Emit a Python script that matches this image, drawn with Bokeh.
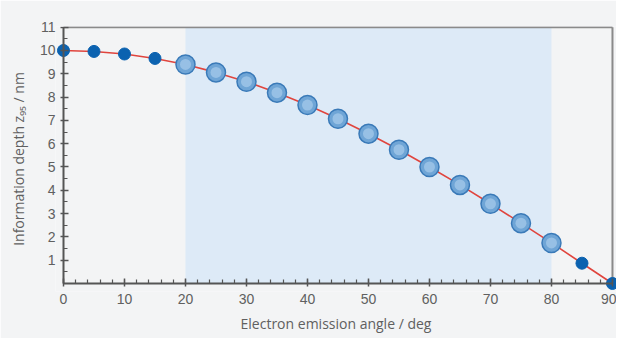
from bokeh.plotting import figure
from bokeh.models import FixedTicker, BoxAnnotation, LinearAxis
from bokeh.embed import file_html
from bokeh.resources import INLINE

angles = [0, 5, 10, 15, 20, 25, 30, 35, 40, 45, 50, 55, 60, 65, 70, 75, 80, 85, 90]
depth = [10.0, 9.96, 9.85, 9.66, 9.40, 9.06, 8.66, 8.19, 7.66, 7.07, 6.43, 5.74, 5.0, 4.23, 3.42, 2.59, 1.74, 0.87, 0.0]
band = (20, 80)
x_ticks = [0, 10, 20, 30, 40, 50, 60, 70, 80, 90]
y_ticks = [1, 2, 3, 4, 5, 6, 7, 8, 9, 10, 11]
x_lim = (0, 90)
y_lim = (0, 11)

inside_x = [a for a in angles if band[0] <= a <= band[1]]
inside_y = [d for a, d in zip(angles, depth) if band[0] <= a <= band[1]]
outside_x = [a for a in angles if not (band[0] <= a <= band[1])]
outside_y = [d for a, d in zip(angles, depth) if not (band[0] <= a <= band[1])]

FONT = "Open Sans"
TICK_FONT = "Liberation Sans"
BG = "#f3f4f5"
AX = "#555555"
TXT = "#606060"

p = figure(width=616, height=338, output_backend="svg", toolbar_location=None,
           x_range=(-1.31, 90.66), y_range=(-0.344, 11.03),
           background_fill_color=BG, border_fill_color=BG,
           min_border_left=55, min_border_right=0, min_border_top=26, min_border_bottom=47)
p.grid.visible = False
p.outline_line_color = None

p.add_layout(BoxAnnotation(left=band[0], right=band[1], bottom=y_lim[0], top=y_lim[1],
                           fill_color="#ddeaf7", fill_alpha=1.0, line_color=None, level="underlay"))

# top and right frame lines
p.segment(x0=[x_lim[0], x_lim[1]], y0=[y_lim[1], y_lim[0]], x1=[x_lim[1], x_lim[1]], y1=[y_lim[1], y_lim[1]],
          line_color="#8a8a8a", line_width=2)

p.line(angles, depth, line_color="#e0453e", line_width=1.6)
p.scatter(outside_x, outside_y, size=12, fill_color="#0b62b0", line_color="#0b62b0")
p.scatter(inside_x, inside_y, size=19, fill_color="#6fa5d6", line_color="#3a7ab8", line_width=1.5)
p.scatter(inside_x, inside_y, size=11, fill_color="#a4c9ea", line_color=None, fill_alpha=0.75)

xt = FixedTicker(ticks=x_ticks, minor_ticks=list(range(0, 91, 2)))
yt = FixedTicker(ticks=y_ticks, minor_ticks=[i * 0.5 for i in range(0, 23)])

# axis lines + ticks, positioned at the data origin
p.xaxis.fixed_location = y_lim[0]
p.yaxis.fixed_location = x_lim[0]
p.xaxis.bounds = x_lim
p.yaxis.bounds = y_lim
p.xaxis.ticker = xt
p.yaxis.ticker = yt
for ax in (p.xaxis[0], p.yaxis[0]):
    ax.axis_line_color = AX
    ax.axis_line_width = 2
    ax.major_tick_line_color = AX
    ax.minor_tick_line_color = AX
    ax.major_tick_line_width = 1.5
    ax.minor_tick_line_width = 1.2
    ax.major_tick_in = 5
    ax.major_tick_out = 3
    ax.minor_tick_in = 4
    ax.minor_tick_out = 0
    ax.major_label_text_color = None
    ax.major_label_standoff = 0

# label-only axes in the side panels
xl = LinearAxis(ticker=xt, axis_label="Electron emission angle / deg")
yl = LinearAxis(ticker=yt, axis_label="Information depth z₉₅ / nm")
for ax in (xl, yl):
    ax.axis_line_color = None
    ax.major_tick_line_color = None
    ax.minor_tick_line_color = None
    ax.major_tick_in = 0
    ax.major_tick_out = 0
    ax.minor_tick_in = 0
    ax.minor_tick_out = 0
    ax.major_label_text_font = TICK_FONT
    ax.major_label_text_font_size = "14px"
    ax.major_label_text_color = TXT
    ax.axis_label_text_font = FONT
    ax.axis_label_text_font_size = "14px"
    ax.axis_label_text_color = TXT
    ax.axis_label_text_font_style = "normal"
xl.major_label_standoff = 2
xl.axis_label_standoff = 7
yl.major_label_standoff = 0
yl.axis_label_standoff = 9
p.add_layout(xl, "below")
p.add_layout(yl, "left")

open("out.html", "w").write(file_html(p, INLINE))
